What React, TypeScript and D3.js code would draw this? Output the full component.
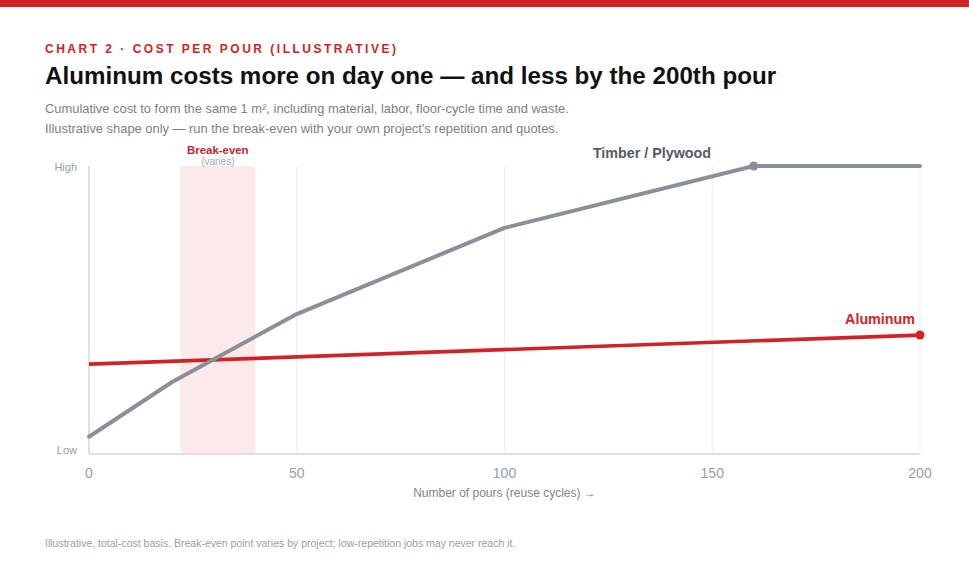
import React from "react";
import * as d3 from "d3";

const pours = [0, 20, 50, 100, 160, 200];
const timberCost = [6, 25, 48.6, 78.5, 100, 100];
const aluminumPours = [0, 200];
const aluminumCost = [31.2, 41.3];
const xTicks = [0, 50, 100, 150, 200];
const gridTicks = [50, 100, 150, 200];
const breakEven = [22, 40];
const yLabels = ["Low", "High"];

const W = 969;
const H = 565;
const FONT = "'Liberation Sans', Arial, Helvetica, sans-serif";
const RED = "#cf2327";

export default function App() {
  const x = d3.scaleLinear().domain([0, 200]).range([89, 920]);
  const y = d3.scaleLinear().domain([0, 100]).range([454, 166]);

  const line = d3
    .line<[number, number]>()
    .x((d) => x(d[0]))
    .y((d) => y(d[1]));

  const timberPts: [number, number][] = pours.map((p, i) => [p, timberCost[i]]);
  const aluPts: [number, number][] = aluminumPours.map((p, i) => [p, aluminumCost[i]]);
  const plateau = timberPts[4];
  const aluEnd = aluPts[aluPts.length - 1];

  return (
    <svg
      width={W}
      height={H}
      viewBox={`0 0 ${W} ${H}`}
      style={{ position: "fixed", left: 0, top: 0, background: "#fff" }}
      fontFamily={FONT}
    >
      <rect x={0} y={0} width={W} height={H} fill="#fff" />
      <rect x={0} y={0} width={W} height={7} fill={RED} />

      <text x={45} y={53} fill={RED} fontSize={12} fontWeight={700} letterSpacing={2.5}>
        CHART 2 · COST PER POUR (ILLUSTRATIVE)
      </text>
      <text x={45} y={84} fill="#111" fontSize={24.2} fontWeight={700}>
        Aluminum costs more on day one — and less by the 200th pour
      </text>
      <text x={45} y={113} fill="#7a7f88" fontSize={12.9}>
        Cumulative cost to form the same 1 m², including material, labor, floor-cycle time and waste.
      </text>
      <text x={45} y={133} fill="#7a7f88" fontSize={12.9}>
        Illustrative shape only — run the break-even with your own project's repetition and quotes.
      </text>

      {/* break-even band */}
      <rect
        x={x(breakEven[0])}
        y={y(100)}
        width={x(breakEven[1]) - x(breakEven[0])}
        height={y(0) - y(100)}
        fill="#fce9ea"
      />
      <text
        x={(x(breakEven[0]) + x(breakEven[1])) / 2}
        y={154}
        textAnchor="middle"
        fill="#c0262b"
        fontSize={11.4}
        fontWeight={700}
      >
        Break-even
      </text>
      <text
        x={(x(breakEven[0]) + x(breakEven[1])) / 2}
        y={165}
        textAnchor="middle"
        fill="#a6aab1"
        fontSize={10}
      >
        (varies)
      </text>

      {/* grid */}
      {gridTicks.map((t) => (
        <line key={t} x1={x(t)} x2={x(t)} y1={y(100)} y2={y(0)} stroke="#eceef1" strokeWidth={1} />
      ))}

      {/* axes */}
      <line x1={x(0)} x2={x(0)} y1={y(100)} y2={y(0)} stroke="#d3d6db" strokeWidth={1.5} />
      <line x1={x(0)} x2={x(200)} y1={y(0)} y2={y(0)} stroke="#d3d6db" strokeWidth={1.5} />

      <text x={77} y={y(100) + 5} textAnchor="end" fill="#9a9ea6" fontSize={11}>
        {yLabels[1]}
      </text>
      <text x={77} y={y(0) - 0} textAnchor="end" fill="#9a9ea6" fontSize={11}>
        {yLabels[0]}
      </text>

      {xTicks.map((t) => (
        <text key={t} x={x(t)} y={478} textAnchor="middle" fill="#9a9ea6" fontSize={14}>
          {t}
        </text>
      ))}
      <text x={(x(0) + x(200)) / 2 + 0} y={497} textAnchor="middle" fill="#80858e" fontSize={12}>
        Number of pours (reuse cycles) →
      </text>

      {/* lines */}
      <path d={line(aluPts) ?? ""} fill="none" stroke={RED} strokeWidth={3.7} strokeLinejoin="round" />
      <path
        d={line(timberPts) ?? ""}
        fill="none"
        stroke="#8a9099"
        strokeWidth={4}
        strokeLinejoin="round"
        strokeLinecap="round"
      />
      <circle cx={x(plateau[0])} cy={y(plateau[1])} r={4.5} fill="#8a9099" />
      <circle cx={x(aluEnd[0])} cy={y(aluEnd[1])} r={4.5} fill={RED} />

      <text x={711} y={158} textAnchor="end" fill="#555b66" fontSize={14.3} fontWeight={700}>
        Timber / Plywood
      </text>
      <text x={915} y={324} textAnchor="end" fill={RED} fontSize={14.3} fontWeight={700}>
        Aluminum
      </text>

      <text x={45} y={547} fill="#9a9ea6" fontSize={10.5}>
        Illustrative, total-cost basis. Break-even point varies by project; low-repetition jobs may never reach it.
      </text>
    </svg>
  );
}
